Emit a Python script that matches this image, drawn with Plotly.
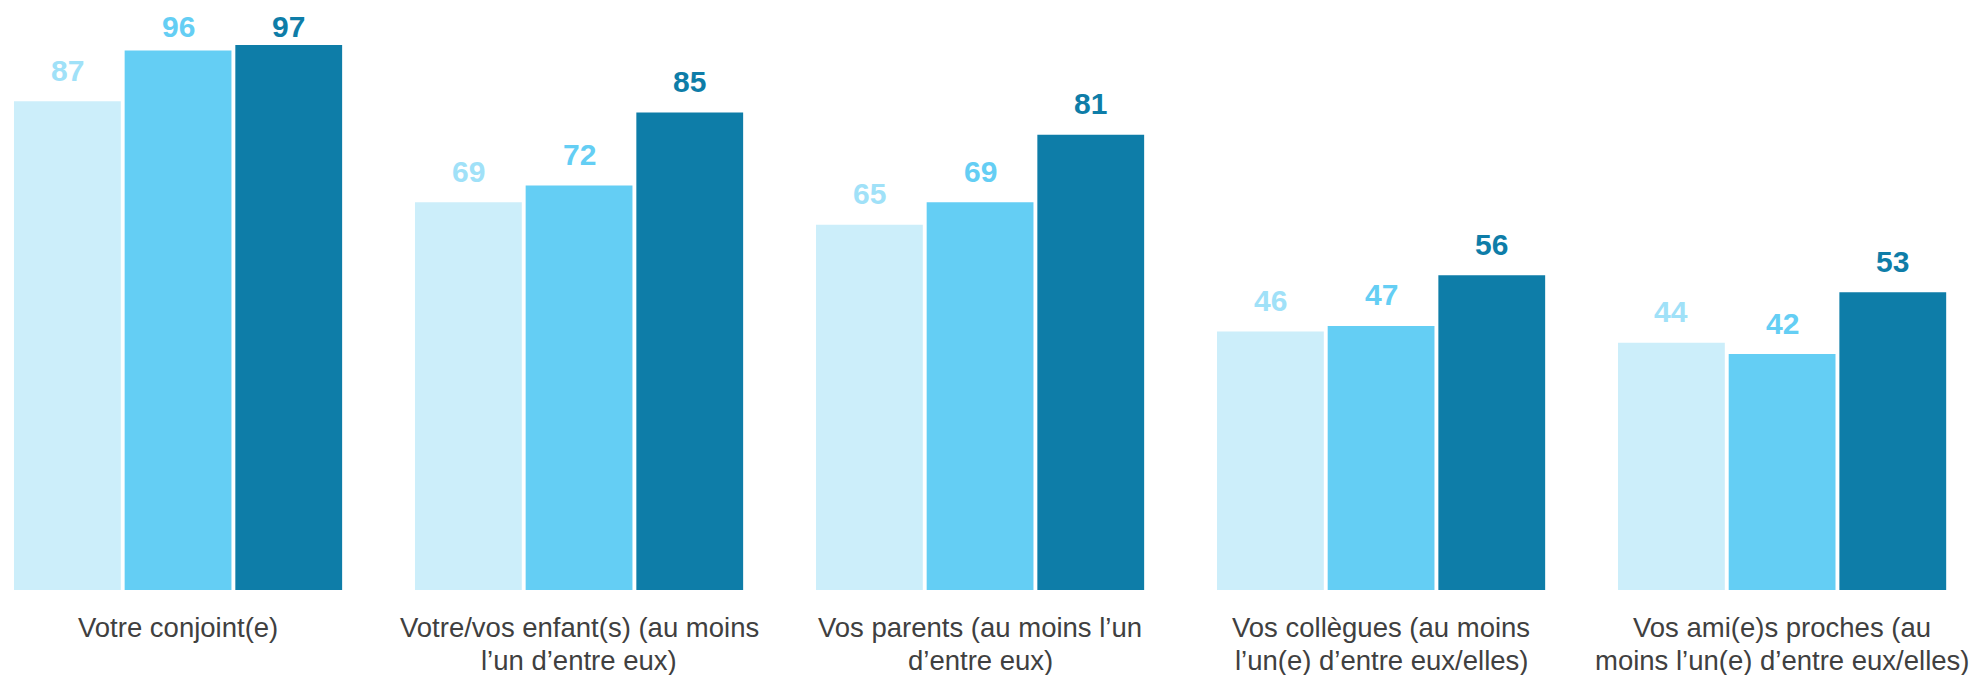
import plotly.graph_objects as go

categories = [
    "Votre conjoint(e)",
    "Votre/vos enfant(s) (au moins<br>l’un d’entre eux)",
    "Vos parents (au moins l’un<br>d’entre eux)",
    "Vos collègues (au moins<br>l’un(e) d’entre eux/elles)",
    "Vos ami(e)s proches (au<br>moins l’un(e) d’entre eux/elles)",
]
series_a = [87, 69, 65, 46, 44]
series_b = [96, 72, 69, 47, 42]
series_c = [97, 85, 81, 56, 53]

bar_colors = ["#CCEEFA", "#64CEF4", "#0E7DA8"]
label_colors = ["#A0E1F8", "#64CEF4", "#0E7DA8"]

W, H = 1983, 675
plot_bottom = 590
y_max = 105
px_per_unit = plot_bottom / y_max

fig = go.Figure()
idx = list(range(len(categories)))
for name, vals, col in zip(["A", "B", "C"], [series_a, series_b, series_c], bar_colors):
    fig.add_trace(go.Bar(x=idx, y=vals, name=name, marker=dict(color=col, line=dict(width=0)),
                         hoverinfo="skip"))

# value labels above bars (kept below the top edge of the plot)
label_offset = 31 / px_per_unit
label_cap = (plot_bottom - 26) / px_per_unit
annotations = []
offsets = [-1, 0, 1]
slot = (1 - 0.172) / 3
for s, (vals, col) in enumerate(zip([series_a, series_b, series_c], label_colors)):
    for i, v in enumerate(vals):
        annotations.append(dict(
            x=i + offsets[s] * slot, y=min(v + label_offset, label_cap),
            xref="x", yref="y", text=f"<b>{v}</b>", showarrow=False,
            xanchor="center", yanchor="middle",
            font=dict(family="Liberation Sans, Arial", size=30, color=col),
        ))

# category names, one annotation per line for tighter line spacing
line_shifts = [-37, -70]
for i, c in enumerate(categories):
    for k, line in enumerate(c.split("<br>")):
        annotations.append(dict(
            x=i, y=0, xref="x", yref="y", text=line, showarrow=False,
            xanchor="center", yanchor="middle", yshift=line_shifts[k], borderpad=0,
            font=dict(family="Liberation Sans, Arial", size=27.5, color="#404040"),
        ))

fig.update_layout(
    width=W, height=H,
    margin=dict(l=0, r=0, t=0, b=H - plot_bottom),
    paper_bgcolor="white", plot_bgcolor="white",
    barmode="group", bargap=0.172, bargroupgap=0.035,
    showlegend=False,
    xaxis=dict(range=[-0.444, 4.501], showticklabels=False, showgrid=False,
               zeroline=False, showline=False, fixedrange=True),
    yaxis=dict(range=[0, y_max], showticklabels=False, showgrid=False,
               zeroline=False, showline=False, fixedrange=True),
    annotations=annotations,
)

fig.write_html("out.html", config={"displayModeBar": False})
